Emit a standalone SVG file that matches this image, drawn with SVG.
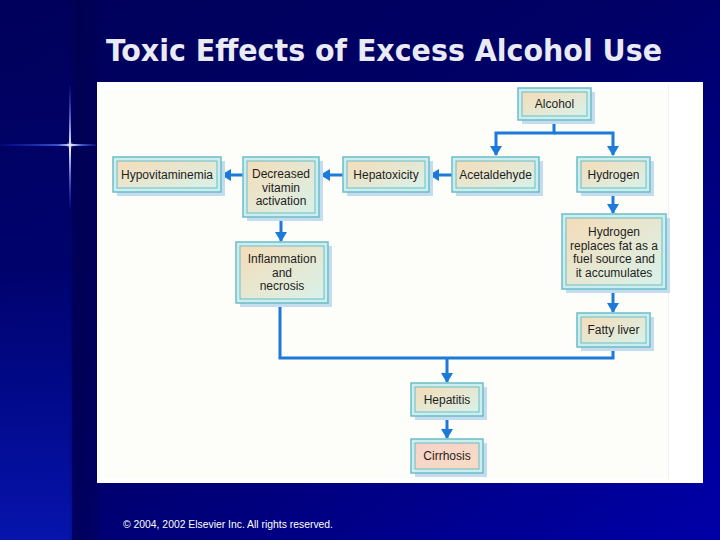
<svg xmlns="http://www.w3.org/2000/svg" width="720" height="540" viewBox="0 0 720 540">
<defs>
  <linearGradient id="bg" x1="0" y1="0" x2="1" y2="1">
    <stop offset="0" stop-color="#00005a"/>
    <stop offset="0.45" stop-color="#000066"/>
    <stop offset="1" stop-color="#0000a8"/>
  </linearGradient>
  <linearGradient id="leftband" x1="0" y1="0" x2="0" y2="1">
    <stop offset="0" stop-color="#0010b0" stop-opacity="0"/>
    <stop offset="0.5" stop-color="#0010b0" stop-opacity="0.15"/>
    <stop offset="1" stop-color="#0818b8" stop-opacity="0.85"/>
  </linearGradient>
  <linearGradient id="darkband" x1="0" y1="0" x2="1" y2="0">
    <stop offset="0" stop-color="#000048" stop-opacity="0"/>
    <stop offset="0.3" stop-color="#000048" stop-opacity="0.5"/>
    <stop offset="1" stop-color="#000048" stop-opacity="0.2"/>
  </linearGradient>
  <linearGradient id="rayH" x1="0" y1="0" x2="1" y2="0">
    <stop offset="0" stop-color="#2040ff" stop-opacity="0.1"/>
    <stop offset="0.6" stop-color="#5070ff" stop-opacity="0.7"/>
    <stop offset="0.74" stop-color="#ffffff" stop-opacity="1"/>
    <stop offset="0.85" stop-color="#6080ff" stop-opacity="0.7"/>
    <stop offset="1" stop-color="#3050ff" stop-opacity="0.2"/>
  </linearGradient>
  <linearGradient id="rayV" x1="0" y1="0" x2="0" y2="1">
    <stop offset="0" stop-color="#3050ff" stop-opacity="0.1"/>
    <stop offset="0.5" stop-color="#ffffff" stop-opacity="1"/>
    <stop offset="1" stop-color="#3050ff" stop-opacity="0.1"/>
  </linearGradient>
  <radialGradient id="glow">
    <stop offset="0" stop-color="#ffffff" stop-opacity="1"/>
    <stop offset="1" stop-color="#6080ff" stop-opacity="0"/>
  </radialGradient>
  <linearGradient id="fill" x1="0" y1="0" x2="1" y2="1">
    <stop offset="0" stop-color="#f5dcb8"/>
    <stop offset="1" stop-color="#d8f2ea"/>
  </linearGradient>
  <linearGradient id="fillPink" x1="0" y1="0" x2="1" y2="1">
    <stop offset="0" stop-color="#f6d2c8"/>
    <stop offset="1" stop-color="#f8dcc4"/>
  </linearGradient>
  <marker id="ah" markerUnits="userSpaceOnUse" viewBox="0 0 10 12" refX="9" refY="6" markerWidth="10" markerHeight="12" orient="auto">
    <path d="M0,0 L10,6 L0,12 z" fill="#1c7ad8"/>
  </marker>
  <style>
    .sh{fill:#c4dcf0}
    .out{fill:#cdeeee;stroke:#6cbcc6;stroke-width:1.5}
    .in{fill:url(#fill);stroke:#6cbcc6;stroke-width:1}
    .inp{fill:url(#fillPink);stroke:#6cbcc6;stroke-width:1}
    .t{font-family:"Liberation Sans",Arial,sans-serif;font-size:12px;fill:#1e1e1e;text-anchor:middle}
    .c{fill:none;stroke:#1c7ad8;stroke-width:3}
  </style>
</defs>

<rect width="720" height="540" fill="url(#bg)"/>
<rect x="0" y="0" width="72" height="540" fill="url(#leftband)"/>
<rect x="68" y="0" width="32" height="540" fill="url(#darkband)"/>

<g id="sparkle">
  <rect x="0" y="144" width="96" height="2" fill="url(#rayH)"/>
  <rect x="69" y="86" width="2" height="122" fill="url(#rayV)"/>
  <circle cx="70" cy="145" r="4" fill="url(#glow)"/>
</g>

<text x="384" y="61" font-family="'DejaVu Sans Condensed','DejaVu Sans',sans-serif" font-weight="bold" font-size="30" fill="#eaeaf4" text-anchor="middle" textLength="556" lengthAdjust="spacingAndGlyphs">Toxic Effects of Excess Alcohol Use</text>

<rect x="97" y="82" width="606" height="401" fill="#ffffff"/>
<rect x="104" y="90" width="564" height="388" fill="#fdfdfa"/>
<line x1="668.5" y1="85" x2="668.5" y2="480" stroke="#f0f0ec" stroke-width="1"/>

<g id="connectors">
  <path class="c" d="M554,120 V133 H496 V155" marker-end="url(#ah)"/>
  <path class="c" d="M554,133 H613 V155" marker-end="url(#ah)"/>
  <path class="c" d="M452,175 H430" marker-end="url(#ah)"/>
  <path class="c" d="M343,175 H321" marker-end="url(#ah)"/>
  <path class="c" d="M243,175 H222" marker-end="url(#ah)"/>
  <path class="c" d="M281,217 V241" marker-end="url(#ah)"/>
  <path class="c" d="M613,193 V213" marker-end="url(#ah)"/>
  <path class="c" d="M613,289 V312" marker-end="url(#ah)"/>
  <path class="c" d="M613,347 V358 H280 V303"/>
  <path class="c" d="M447,358 V382" marker-end="url(#ah)"/>
  <path class="c" d="M447,416 V438" marker-end="url(#ah)"/>
</g>

<g id="alcohol">
  <rect class="sh" x="522" y="92" width="73" height="32"/>
  <rect class="out" x="518" y="88" width="73" height="32"/>
  <rect class="in" x="522" y="92" width="65" height="24"/>
  <text class="t" x="554.5" y="108">Alcohol</text>
</g>

<g id="hypovitaminemia">
  <rect class="sh" x="117" y="161" width="108" height="35"/>
  <rect class="out" x="113" y="157" width="108" height="35"/>
  <rect class="in" x="117" y="161" width="100" height="27"/>
  <text class="t" x="167" y="179">Hypovitaminemia</text>
</g>

<g id="decreased">
  <rect class="sh" x="247" y="161" width="76" height="60"/>
  <rect class="out" x="243" y="157" width="76" height="60"/>
  <rect class="in" x="247" y="161" width="68" height="52"/>
  <text class="t" x="281" y="178">Decreased</text>
  <text class="t" x="281" y="191.5">vitamin</text>
  <text class="t" x="281" y="205">activation</text>
</g>

<g id="hepatoxicity">
  <rect class="sh" x="347" y="161" width="86" height="35"/>
  <rect class="out" x="343" y="157" width="86" height="35"/>
  <rect class="in" x="347" y="161" width="78" height="27"/>
  <text class="t" x="386" y="179">Hepatoxicity</text>
</g>

<g id="acetaldehyde">
  <rect class="sh" x="456" y="161" width="87" height="35"/>
  <rect class="out" x="452" y="157" width="87" height="35"/>
  <rect class="in" x="456" y="161" width="79" height="27"/>
  <text class="t" x="495.5" y="179">Acetaldehyde</text>
</g>

<g id="hydrogen">
  <rect class="sh" x="581" y="161" width="73" height="35"/>
  <rect class="out" x="577" y="157" width="73" height="35"/>
  <rect class="in" x="581" y="161" width="65" height="27"/>
  <text class="t" x="613.5" y="179">Hydrogen</text>
</g>

<g id="hydrogen-replaces">
  <rect class="sh" x="566" y="218" width="104" height="75"/>
  <rect class="out" x="562" y="214" width="104" height="75"/>
  <rect class="in" x="566" y="218" width="96" height="67"/>
  <text class="t" x="614" y="236">Hydrogen</text>
  <text class="t" x="614" y="249.5">replaces fat as a</text>
  <text class="t" x="614" y="263">fuel source and</text>
  <text class="t" x="614" y="276.5">it accumulates</text>
</g>

<g id="inflammation">
  <rect class="sh" x="240" y="246" width="92" height="61"/>
  <rect class="out" x="236" y="242" width="92" height="61"/>
  <rect class="in" x="240" y="246" width="84" height="53"/>
  <text class="t" x="282" y="263">Inflammation</text>
  <text class="t" x="282" y="276.5">and</text>
  <text class="t" x="282" y="290">necrosis</text>
</g>

<g id="fatty-liver">
  <rect class="sh" x="581" y="317" width="73" height="34"/>
  <rect class="out" x="577" y="313" width="73" height="34"/>
  <rect class="in" x="581" y="317" width="65" height="26"/>
  <text class="t" x="613.5" y="334">Fatty liver</text>
</g>

<g id="hepatitis">
  <rect class="sh" x="415" y="387" width="72" height="33"/>
  <rect class="out" x="411" y="383" width="72" height="33"/>
  <rect class="in" x="415" y="387" width="64" height="25"/>
  <text class="t" x="447" y="404">Hepatitis</text>
</g>

<g id="cirrhosis">
  <rect class="sh" x="415" y="443" width="72" height="34"/>
  <rect class="out" x="411" y="439" width="72" height="34"/>
  <rect class="inp" x="415" y="443" width="64" height="26"/>
  <text class="t" x="447" y="460">Cirrhosis</text>
</g>

<text x="123" y="528" font-family="'Liberation Sans',Arial,sans-serif" font-size="10" fill="#ffffff" textLength="210" lengthAdjust="spacingAndGlyphs">© 2004, 2002  Elsevier Inc.  All rights reserved.</text>
</svg>
